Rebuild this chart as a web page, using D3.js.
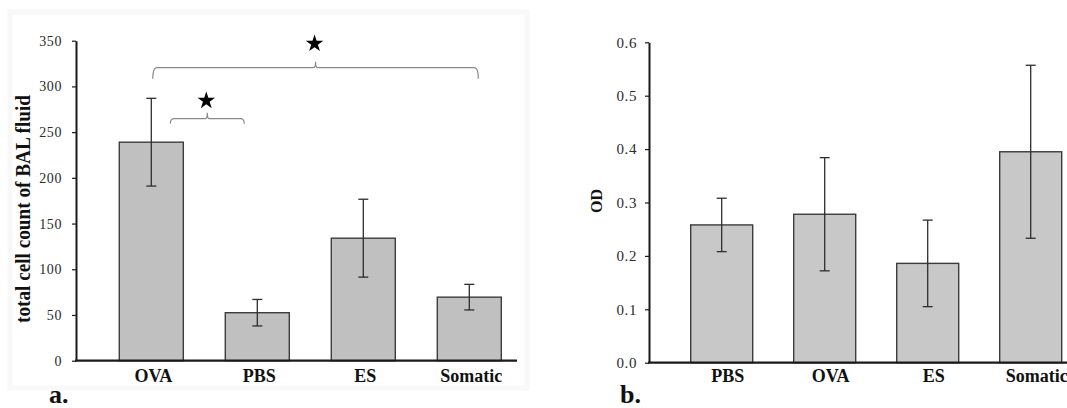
<!DOCTYPE html>
<html><head><meta charset="utf-8">
<script src="https://cdn.jsdelivr.net/npm/d3@7"></script>
<style>
html,body{margin:0;padding:0;background:#fff;}
svg{display:block;}
text{font-family:"Liberation Serif","Times New Roman",serif;}
</style></head>
<body>
<svg id="c" width="1067" height="408"></svg>
<script>
// ---- Data: chart a (total cell count of BAL fluid) ----
const catsA = ["OVA", "PBS", "ES", "Somatic"];
const valuesA = [239, 52.5, 134, 69.5];
const errorsA = [48, 14.5, 42.6, 14];
const ticksA = [0, 50, 100, 150, 200, 250, 300, 350];
// significance brackets: [fromCategory, toCategory, level]
const bracketsA = [["OVA", "Somatic", 320.5], ["OVA", "PBS", 264.7]];

// ---- Data: chart b (OD) ----
const catsB = ["PBS", "OVA", "ES", "Somatic"];
const valuesB = [0.258, 0.278, 0.186, 0.395];
const errorsB = [0.05, 0.106, 0.081, 0.162];
const ticksB = [0, 0.1, 0.2, 0.3, 0.4, 0.5, 0.6];

const svg = d3.select("#c");
svg.append("rect").attr("width",1067).attr("height",408).attr("fill","#fff");
// faint panel frame of chart a
svg.append("rect").attr("x",10).attr("y",12).attr("width",517).attr("height",376)
  .attr("fill","none").attr("stroke","#f8f8f8").attr("stroke-width",5);

function drawChart(opt){
  const g = svg.append("g");
  const y = d3.scaleLinear().domain(opt.yDomain).range([opt.y0, opt.y1]);
  const x = d3.scaleBand().domain(opt.cats).range(opt.xRange)
    .paddingInner(opt.pad).paddingOuter(opt.pad/2);

  // bars
  g.selectAll("rect.bar").data(opt.cats).join("rect").attr("class","bar")
    .attr("x", d => x(d)).attr("width", x.bandwidth())
    .attr("y", (d,i) => y(opt.values[i]))
    .attr("height", (d,i) => y(0) - y(opt.values[i]))
    .attr("fill", opt.fill).attr("stroke","#3c3c3c").attr("stroke-width",1.4);

  // error bars
  const eg = g.append("g").attr("stroke","#2e2e2e").attr("stroke-width",1.3).attr("fill","none");
  opt.cats.forEach((c,i) => {
    const cx = x(c) + x.bandwidth()/2;
    const hi = y(opt.values[i] + opt.errors[i]);
    const lo = y(opt.values[i] - opt.errors[i]);
    eg.append("line").attr("x1",cx).attr("x2",cx).attr("y1",hi).attr("y2",lo);
    eg.append("line").attr("x1",cx-5).attr("x2",cx+5).attr("y1",hi).attr("y2",hi);
    eg.append("line").attr("x1",cx-5).attr("x2",cx+5).attr("y1",lo).attr("y2",lo);
  });

  // y axis
  const ax = g.append("g").attr("transform",`translate(${opt.axisX},0)`)
    .call(d3.axisLeft(y).tickValues(opt.ticks).tickFormat(opt.fmt)
      .tickSize(4).tickSizeOuter(0).tickPadding(opt.tickPad));
  ax.select(".domain").attr("stroke","#1a1a1a").attr("stroke-width",2);
  ax.selectAll(".tick line").attr("stroke","#1a1a1a").attr("stroke-width",1.2);
  ax.selectAll(".tick text").attr("fill","#2a2a2a").attr("font-size",opt.tickFont)
    .style("letter-spacing","0.6px")
    .style("font-family",'"Liberation Serif","Times New Roman",serif');

  // x axis line
  g.append("line").attr("x1",opt.axisX-1).attr("x2",opt.xAxisEnd)
    .attr("y1",y(0)).attr("y2",y(0)).attr("stroke","#1a1a1a").attr("stroke-width",2.2);

  // category labels
  g.selectAll("text.cat").data(opt.cats).join("text").attr("class","cat")
    .attr("x", d => x(d) + x.bandwidth()/2 + opt.labelDx)
    .attr("y", 382).attr("text-anchor","middle")
    .attr("font-size",18).attr("font-weight","bold").attr("fill","#111")
    .text(d => d);

  // y title
  g.append("text")
    .attr("transform",`translate(${opt.titleX},${opt.titleY}) rotate(-90)`)
    .attr("text-anchor","middle").attr("dominant-baseline","central")
    .attr("font-weight","bold").attr("font-size",opt.titleSize).attr("fill","#111")
    .attr("textLength", opt.titleLen || null)
    .attr("lengthAdjust", opt.titleLen ? "spacingAndGlyphs" : null)
    .text(opt.title);

  // panel letter
  g.append("text").attr("x",opt.letterX).attr("y",403)
    .attr("font-size",26).attr("font-weight","bold").attr("fill","#111").text(opt.letter);
  return {x, y, g};
}

const A = drawChart({
  cats: catsA, values: valuesA, errors: errorsA, ticks: ticksA,
  yDomain: [0,350], y0: 360.7, y1: 40.7, xRange: [98.3, 522.3], pad: 0.396,
  fill: "#c0c0c0", axisX: 76, xAxisEnd: 517, fmt: d3.format("d"), tickPad: 10, tickFont: 14,
  labelDx: 2, title: "total cell count of BAL fluid", titleX: 23, titleY: 209, titleSize: 21,
  titleLen: 228, letter: "a.", letterX: 49
});

// significance brackets + stars for chart a
bracketsA.forEach(([c1, c2, lvl], k) => {
  const x = A.x, y = A.y, bw = x.bandwidth();
  let xa, xb;
  if (k === 0) { xa = x(c1) + bw/2 + 1.5; xb = x(c2) + bw/2 + 9; }
  else { xa = x(c1) + bw/2 + 19; xb = x(c2) + bw/2 - 13; }
  const yb = y(lvl), r = 4, drop = k === 0 ? 11 : 5, up = 6;
  const xm = (xa + xb) / 2;
  const p = d3.path();
  p.moveTo(xa, yb + drop);
  p.quadraticCurveTo(xa, yb, xa + r, yb);
  p.lineTo(xm - 2, yb);
  p.quadraticCurveTo(xm, yb, xm, yb - up);
  p.quadraticCurveTo(xm, yb, xm + 2, yb);
  p.lineTo(xb - r, yb);
  p.quadraticCurveTo(xb, yb, xb, yb + drop);
  A.g.append("path").attr("d", p.toString()).attr("fill","none")
    .attr("stroke","#8a8a8a").attr("stroke-width",1.2);
  A.g.append("path").attr("d", d3.symbol(d3.symbolStar, 95)())
    .attr("transform",`translate(${xm - 1},${yb - (k===0?24:18)})`).attr("fill","#000");
});

drawChart({
  cats: catsB, values: valuesB, errors: errorsB, ticks: ticksB,
  yDomain: [0,0.6], y0: 362.7, y1: 42.3, xRange: [670.2, 1082.2], pad: 0.398,
  fill: "#c8c8c8", axisX: 649, xAxisEnd: 1070, fmt: d3.format(".1f"), tickPad: 8, tickFont: 15,
  labelDx: 6, title: "OD", titleX: 596, titleY: 201, titleSize: 16,
  letter: "b.", letterX: 620
});
</script>
</body></html>
